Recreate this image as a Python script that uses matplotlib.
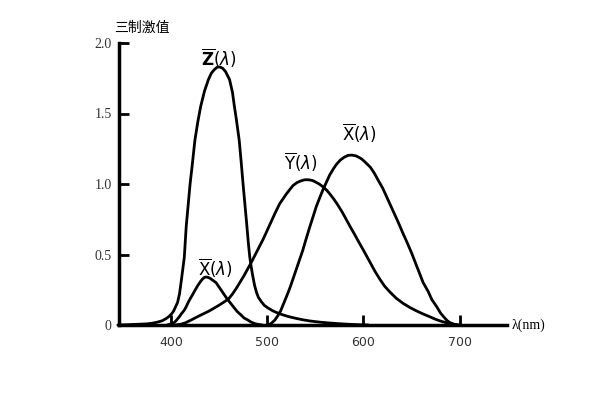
import matplotlib
matplotlib.use("Agg")
import matplotlib.pyplot as plt

plt.rcParams['font.family'] = ['Liberation Serif', 'Noto Sans CJK SC', 'DejaVu Sans']
plt.rcParams['mathtext.fontset'] = 'dejavusans'

# z-bar curve (wavelength nm, value)
z_wl = [345, 355, 365, 375, 381, 386, 391, 395, 398, 401, 403, 405, 407, 409, 411, 412.5, 414, 416, 418,
        420, 422, 425, 428, 431, 435, 439, 442, 445, 448, 451, 454, 457, 461, 464, 466, 468, 471, 473,
        475, 477, 479, 480.5, 482, 483.5, 485, 487, 489, 491, 494, 497, 501, 506, 510, 515, 522, 530,
        537, 545, 555, 565, 575, 585, 595, 605]
z_val = [0.0, 0.002, 0.005, 0.008, 0.013, 0.02, 0.03, 0.045, 0.06, 0.08, 0.10, 0.13, 0.16, 0.22, 0.32, 0.40, 0.48, 0.70, 0.85,
         1.0, 1.12, 1.31, 1.44, 1.55, 1.66, 1.74, 1.785, 1.81, 1.828, 1.83, 1.82, 1.795, 1.74, 1.65, 1.55, 1.46, 1.31, 1.16,
         1.0, 0.85, 0.70, 0.58, 0.48, 0.41, 0.35, 0.28, 0.23, 0.195, 0.165, 0.14, 0.12, 0.10, 0.088, 0.075, 0.06, 0.047,
         0.037, 0.028, 0.02, 0.014, 0.009, 0.005, 0.002, 0.0]

# small x-bar lobe
xs_wl = [396, 398, 400, 402, 404, 406, 409, 411, 414, 416, 418, 420, 423, 425, 428, 431, 433, 435, 437, 439,
         441, 443, 445, 447, 450, 453, 456, 459, 462, 466, 469, 473, 476, 480, 483, 487, 491, 495]
xs_val = [0.0, 0.003, 0.008, 0.013, 0.02, 0.035, 0.06, 0.08, 0.105, 0.13, 0.16, 0.185, 0.22, 0.245, 0.28, 0.31, 0.327, 0.338, 0.34, 0.337,
          0.33, 0.32, 0.31, 0.30, 0.27, 0.24, 0.21, 0.18, 0.155, 0.12, 0.095, 0.07, 0.05, 0.035, 0.022, 0.01, 0.004, 0.0]

# y-bar curve
y_wl = [405, 410, 415, 421, 428, 434, 440, 445, 450, 455, 460, 464, 468, 472, 476, 480, 484, 490, 496, 500,
        504, 508, 513, 517, 520, 524, 527, 531, 535, 539, 543, 547, 550, 554, 558, 562, 565, 569, 573, 578,
        582, 586, 591, 595, 600, 604, 608, 612, 617, 622, 628, 634, 641, 648, 655, 662, 669, 675, 680, 685,
        690, 695, 700]
y_val = [0.0, 0.005, 0.015, 0.035, 0.06, 0.08, 0.10, 0.12, 0.14, 0.162, 0.185, 0.22, 0.26, 0.305, 0.35, 0.40, 0.45, 0.53, 0.61, 0.67,
         0.73, 0.79, 0.86, 0.90, 0.93, 0.965, 0.99, 1.01, 1.022, 1.03, 1.03, 1.025, 1.015, 1.00, 0.98, 0.955, 0.93, 0.895, 0.855, 0.80,
         0.75, 0.70, 0.64, 0.59, 0.53, 0.48, 0.43, 0.38, 0.325, 0.275, 0.23, 0.19, 0.154, 0.125, 0.10, 0.078, 0.058, 0.04, 0.028, 0.018,
         0.01, 0.004, 0.0]

# big x-bar lobe
xb_wl = [500, 504, 508, 511, 514, 517, 520, 524, 528, 532, 537, 540, 544, 548, 551, 555, 558, 562, 565, 569,
         572, 576, 580, 584, 588, 592, 595, 598, 601, 604, 607, 611, 615, 620, 624, 628, 632, 636, 641, 645,
         650, 654, 658, 662, 667, 671, 676, 680, 683, 687, 690, 694, 697]
xb_val = [0.0, 0.01, 0.035, 0.065, 0.10, 0.15, 0.2, 0.27, 0.35, 0.43, 0.53, 0.60, 0.69, 0.775, 0.84, 0.91, 0.96, 1.02, 1.065, 1.11,
          1.14, 1.17, 1.19, 1.203, 1.205, 1.20, 1.19, 1.178, 1.16, 1.14, 1.12, 1.08, 1.03, 0.97, 0.91, 0.85, 0.79, 0.73, 0.65, 0.59,
          0.51, 0.44, 0.37, 0.30, 0.24, 0.18, 0.13, 0.085, 0.06, 0.03, 0.016, 0.005, 0.0]

x_ticks = [400, 500, 600, 700]
y_ticks = [0, 0.5, 1.0, 1.5, 2.0]
y_ticklabels = ['0', '0.5', '1.0', '1.5', '2.0']

fig = plt.figure(figsize=(6, 4), dpi=100)
ax = fig.add_axes([0.198, 0.1875, 0.647, 0.705])

for wl, val in [(z_wl, z_val), (xs_wl, xs_val), (y_wl, y_val), (xb_wl, xb_val)]:
    ax.plot(wl, val, color='black', lw=2.0, solid_joinstyle='round', solid_capstyle='round', clip_on=False)

ax.set_xlim(346, 749)
ax.set_ylim(0, 2.0)
ax.spines['top'].set_visible(False)
ax.spines['right'].set_visible(False)
ax.spines['left'].set_linewidth(2.5)
ax.spines['bottom'].set_linewidth(2.5)

ax.set_xticks(x_ticks)
ax.set_xticklabels([str(t) for t in x_ticks], fontsize=9, family='DejaVu Sans')
ax.set_yticks(y_ticks)
ax.set_yticklabels(y_ticklabels, fontsize=10)
ax.tick_params(axis='both', direction='in', length=7, width=2, colors='black')
ax.tick_params(axis='x', pad=8, labelcolor='#333333')
ax.tick_params(axis='y', pad=5, labelcolor='#333333')

lab = dict(ha='center', va='center', fontsize=12, color='black')
ax.text(450, 1.89, r'$\overline{\mathbf{Z}}(\lambda)$', **lab)
ax.text(446, 0.40, r'$\overline{\mathrm{X}}(\lambda)$', **lab)
ax.text(535, 1.15, r'$\overline{\mathrm{Y}}(\lambda)$', **lab)
ax.text(596, 1.36, r'$\overline{\mathrm{X}}(\lambda)$', **lab)

ax.text(754, 0, 'λ(nm)', ha='left', va='center', fontsize=10, clip_on=False)
ax.text(370, 2.11, '三制激值', ha='center', va='center', fontsize=10,
        family=['Noto Sans CJK SC', 'DejaVu Sans'], clip_on=False)

fig.savefig('out.png', dpi=100)
